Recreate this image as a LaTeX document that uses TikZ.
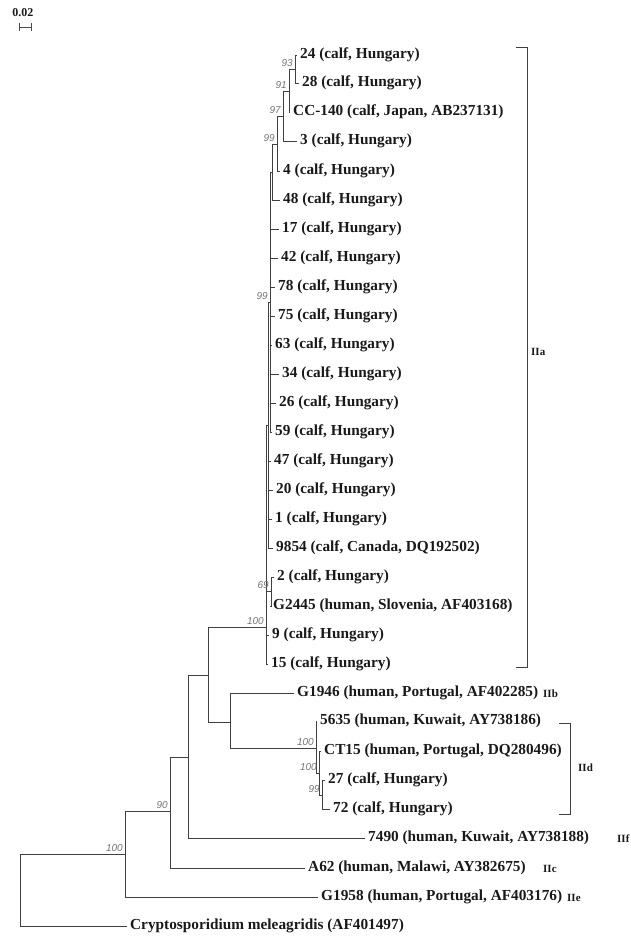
\documentclass[tikz,border=0pt]{standalone}
\usepackage{fontspec}
\setmainfont{Liberation Serif}
\newfontfamily\bootfont{Liberation Sans}
\begin{document}
\begin{tikzpicture}[x=1pt, y=-1pt,
    leaf/.style={anchor=west, inner xsep=3pt, inner ysep=0pt, font=\fontsize{15.3}{16}\selectfont\bfseries, text=black!90},
    boot/.style={anchor=south east, inner sep=0pt, font=\bootfont\itshape\fontsize{10}{11}\selectfont, text=black!55},
    clade/.style={anchor=west, inner sep=0pt, font=\fontsize{11}{12}\selectfont\bfseries, text=black!90},
    branch/.style={draw=black!75, line width=0.8pt}]
    \useasboundingbox (0,0) rectangle (631,936);
    % scale bar
    \node[clade, anchor=center, font=\fontsize{12}{13}\selectfont\bfseries] (scl) at (23,13) {0.02};
    \draw[black!70, line width=0.6pt] (19,23) -- (19,31) (19,27) -- (31,27) (31,23) -- (31,31);
    % inner nodes
    \coordinate (root) at (20,890);
    \coordinate (nA) at (125,854);
    \coordinate (nB) at (170,811);
    \coordinate (nC) at (188,757);
    \coordinate (nD) at (208,675);
    \coordinate (nE) at (230,722);
    \coordinate (nIId) at (316,748);
    \coordinate (nG) at (319,773);
    \coordinate (nH) at (322,795);
    \coordinate (nIIa) at (266,627);
    \coordinate (nP) at (268,425);
    \coordinate (n99b) at (270,302);
    \coordinate (n48) at (272,172);
    \coordinate (n99a) at (277,144);
    \coordinate (n97) at (283,116);
    \coordinate (n91) at (289,91);
    \coordinate (n93) at (295,69);
    \coordinate (n69) at (271,591);
    % IIa, top clade
    \node[leaf] (l24) at (297,55) {24 (calf, Hungary)};
    \node[leaf] (l28) at (299,83) {28 (calf, Hungary)};
    \node[leaf] (lCC) at (290,112) {CC-140 (calf, Japan, AB237131)};
    \node[leaf] (l3) at (297,141) {3 (calf, Hungary)};
    \node[leaf] (l4) at (280,171) {4 (calf, Hungary)};
    \node[leaf] (l48) at (280,200) {48 (calf, Hungary)};
    \draw[branch] (n93) |- (l24.west) (n93) |- (l28.west);
    \draw[branch] (n91) |- (n93) (n91) |- (lCC.west);
    \draw[branch] (n97) |- (n91) (n97) |- (l3.west);
    \draw[branch] (n99a) |- (n97) (n99a) |- (l4.west);
    \draw[branch] (n48) |- (n99a) (n48) |- (l48.west);
    \draw[branch] (n99b) |- (n48);
    \foreach \nm/\x/\y in {17/279/229, 42/278/258, 78/275/287, 75/275/316, 63/272/345, 34/279/374, 26/276/403, 59/272/432} {
        \node[leaf] (l\nm) at (\x,\y) {\nm\ (calf, Hungary)};
        \draw[branch] (n99b) |- (l\nm.west);
    }
    \draw[branch] (nP) |- (n99b);
    \foreach \nm/\x/\y in {47/271/461, 20/273/490, 1/272/519} {
        \node[leaf] (l\nm) at (\x,\y) {\nm\ (calf, Hungary)};
        \draw[branch] (nP) |- (l\nm.west);
    }
    \node[leaf] (l9854) at (273,548) {9854 (calf, Canada, DQ192502)};
    \draw[branch] (nP) |- (l9854.west);
    % IIa, lower part
    \node[leaf] (l2) at (274,577) {2 (calf, Hungary)};
    \node[leaf] (lG2445) at (270,606) {G2445 (human, Slovenia, AF403168)};
    \node[leaf] (l9) at (269,635) {9 (calf, Hungary)};
    \node[leaf] (l15) at (268,664) {15 (calf, Hungary)};
    \draw[branch] (n69) |- (l2.west) (n69) |- (lG2445.west);
    \draw[branch] (nIIa) |- (nP) (nIIa) |- (n69) (nIIa) |- (l9.west) (nIIa) |- (l15.west);
    % IIb and IId
    \node[leaf] (lG1946) at (294,693) {G1946 (human, Portugal, AF402285)};
    \node[leaf] (l5635) at (317,721) {5635 (human, Kuwait, AY738186)};
    \node[leaf] (lCT15) at (321,751) {CT15 (human, Portugal, DQ280496)};
    \node[leaf] (l27) at (325,780) {27 (calf, Hungary)};
    \node[leaf] (l72) at (330,809) {72 (calf, Hungary)};
    \draw[branch] (nH) |- (l27.west) (nH) |- (l72.west);
    \draw[branch] (nG) |- (lCT15.west) (nG) |- (nH);
    \draw[branch] (nIId) |- (l5635.west) (nIId) |- (nG);
    \draw[branch] (nE) |- (lG1946.west) (nE) |- (nIId);
    \draw[branch] (nD) |- (nIIa) (nD) |- (nE);
    % outer taxa
    \node[leaf] (l7490) at (365,838) {7490 (human, Kuwait, AY738188)};
    \node[leaf] (lA62) at (305,868) {A62 (human, Malawi, AY382675)};
    \node[leaf] (lG1958) at (318,897) {G1958 (human, Portugal, AF403176)};
    \node[leaf] (lmel) at (127,926) {Cryptosporidium meleagridis (AF401497)};
    \draw[branch] (nC) |- (nD) (nC) |- (l7490.west);
    \draw[branch] (nB) |- (nC) (nB) |- (lA62.west);
    \draw[branch] (nA) |- (nB) (nA) |- (lG1958.west);
    \draw[branch] (root) |- (nA) (root) |- (lmel.west);
    % bootstrap values
    \foreach \nd/\val in {n93/93, n91/91, n97/97, n99a/99, n99b/99, n69/69, nIIa/100, nIId/100, nG/100, nH/99, nB/90, nA/100} {
        \node[boot] (b\nd) at ([shift={(-2,-2)}]\nd) {\val};
    }
    % clade brackets
    \draw[black!75, line width=0.8pt] (516,47) -- (527,47) -- (527,667) -- (516,667);
    \draw[black!75, line width=0.8pt] (559,723) -- (570,723) -- (570,814) -- (559,814);
    \node[clade] (cIIa) at (531,352) {IIa};
    \node[clade] (cIIb) at (543,694) {IIb};
    \node[clade] (cIId) at (578,768) {IId};
    \node[clade] (cIIf) at (617,839) {IIf};
    \node[clade] (cIIc) at (543,869) {IIc};
    \node[clade] (cIIe) at (567,898) {IIe};
\end{tikzpicture}
\end{document}
